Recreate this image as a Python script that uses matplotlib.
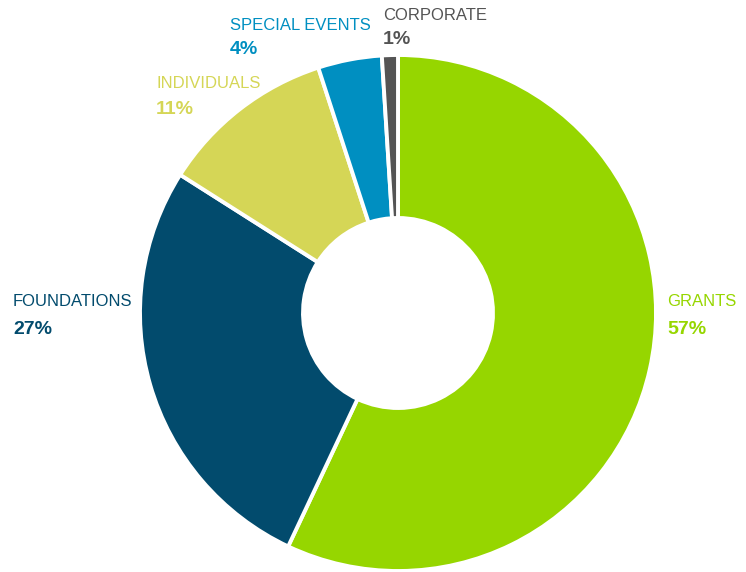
import matplotlib
matplotlib.use("Agg")
import matplotlib.pyplot as plt

categories = ["GRANTS", "FOUNDATIONS", "INDIVIDUALS", "SPECIAL EVENTS", "CORPORATE"]
values = [57, 27, 11, 4, 1]
pct_labels = ["57%", "27%", "11%", "4%", "1%"]
colors = ["#96D600", "#024B6D", "#D5D656", "#008FC1", "#545454"]
label_colors = ["#96D600", "#024B6D", "#D5D656", "#008FC1", "#545454"]

W, H = 746, 572
fig = plt.figure(figsize=(W / 100, H / 100), dpi=100)
ax = fig.add_axes([0, 0, 1, 1])

cx, cy, R, r_in = 398, H - 313, 258, 95
ax.pie(values, colors=colors, startangle=90, counterclock=False,
       center=(cx, cy), radius=R, frame=True,
       wedgeprops=dict(width=R - r_in, edgecolor="white", linewidth=2.8))
ax.set_xlim(0, W)
ax.set_ylim(0, H)
ax.set_aspect("equal")
ax.axis("off")

# label anchor positions (left x, name y, pct y) in pixel coords from top
label_pos = [(667, 302, 329), (13, 302, 329), (156, 84, 110), (230, 26, 50), (383, 15, 40)]
for cat, pct, col, (lx, ny, py) in zip(categories, pct_labels, label_colors, label_pos):
    ax.text(lx, H - ny, cat, color=col, fontsize=12, family="Liberation Sans",
            ha="left", va="center")
    ax.text(lx, H - py, pct, color=col, fontsize=14, family="Liberation Sans",
            fontweight="bold", ha="left", va="center")

fig.savefig("out.png", dpi=100)
